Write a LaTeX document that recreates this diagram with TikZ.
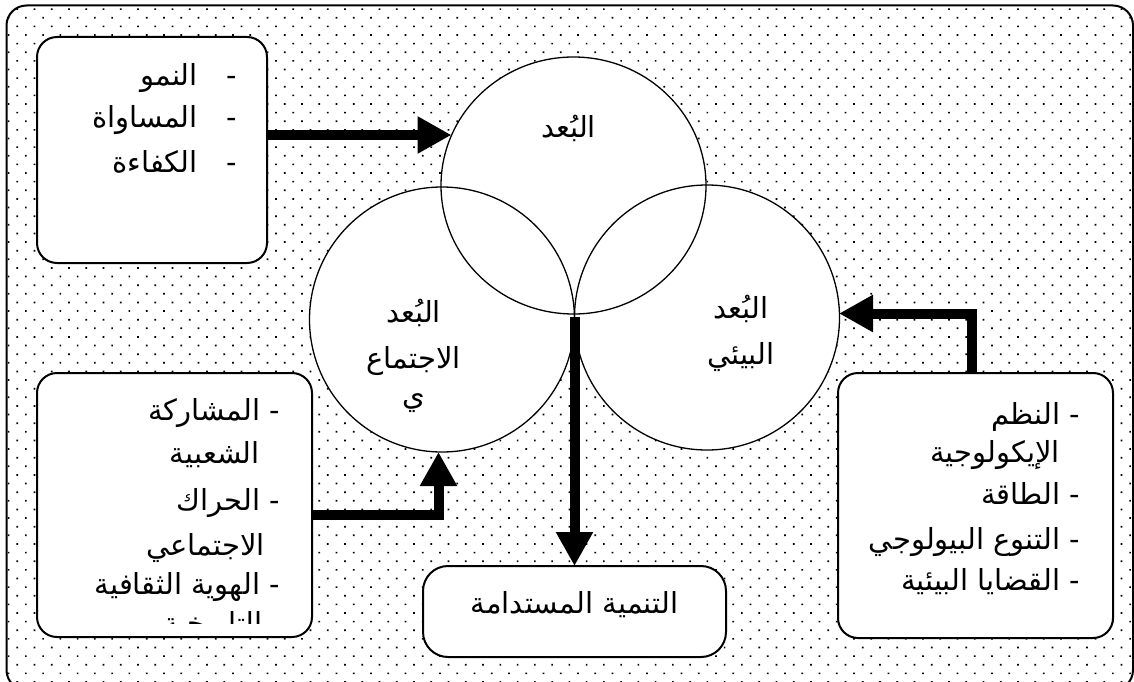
\documentclass[tikz,border=0pt]{standalone}
\usepackage{fontspec}
\newfontfamily\arfont[Script=Arabic]{DejaVu Sans}
\TeXXeTstate=1
\usetikzlibrary{arrows.meta,patterns.meta,shapes.geometric}
\tikzset{
  ar/.style={font=\arfont\fontsize{29}{33}\selectfont, inner sep=0pt},
  boxstyle/.style={draw, line width=2pt, fill=white, rounded corners=20pt, inner sep=0pt, outer sep=0pt},
  ringfill/.style={fill=white, inner sep=0pt, outer sep=0pt},
  ring/.style={line width=1.3pt},
  conn/.style={line width=10pt, line join=miter, -{Triangle[length=34pt,width=35pt]}},
}
\begin{document}
\begin{tikzpicture}[x=1pt,y=-1pt]
\useasboundingbox (0,0) rectangle (1134,682);
\clip (0,0) rectangle (1134,682);
\fill[white] (0,0) rectangle (1134,682);
% frame with dotted background
\draw[line width=2pt, rounded corners=20pt, pattern={Dots[distance=12.2pt,angle=45,radius=1.2pt]}] (6.5,5.5) rectangle (1133,690);

% boxes
\node[boxstyle, minimum width=230pt, minimum height=226pt] (tlbox) at (152,150) {};
\node[boxstyle, minimum width=275pt, minimum height=264pt] (lbbox) at (174.5,505) {};
\node[boxstyle, minimum width=275pt, minimum height=265pt] (rbox) at (975.5,505.5) {};
\node[boxstyle, rounded corners=25pt, minimum width=303pt, minimum height=91pt] (bbox) at (574.5,611.5) {};

% circles
\node[ringfill, ellipse, minimum width=265pt, minimum height=257pt] (tcirc) at (573.5,185.5) {};
\node[ringfill, circle, minimum size=265pt] (lcirc) at (442,319.5) {};
\node[ringfill, circle, minimum size=265pt] (rcirc) at (707,317.5) {};
\draw[ring] (tcirc.center) ellipse [x radius=132.5, y radius=128.5];
\draw[ring] (lcirc.center) circle [radius=132.5];
\draw[ring] (rcirc.center) circle [radius=132.5];

% circle labels
\node[ar, anchor=base] (tc1) at (568.6,138) {\beginR البُعد\endR};
\node[ar, anchor=base] (lc1) at (413.6,322) {\beginR البُعد\endR};
\node[ar, anchor=base] (lc2) at (413.6,368) {\beginR الاجتماع\endR};
\node[ar, anchor=base] (lc3) at (413.6,405) {\beginR ي\endR};
\node[ar, anchor=base] (rc1) at (740.8,318) {\beginR البُعد\endR};
\node[ar, anchor=base] (rc2) at (740.8,364) {\beginR البيئي\endR};

% top-left box text
\node[ar, anchor=base east] (tl1d) at (237,86) {-};
\node[ar, anchor=base east] (tl1) at (198,86) {\beginR النمو\endR};
\node[ar, anchor=base east] (tl2d) at (237,128) {-};
\node[ar, anchor=base east] (tl2) at (198,128) {\beginR المساواة\endR};
\node[ar, anchor=base east] (tl3d) at (237,172) {-};
\node[ar, anchor=base east] (tl3) at (198,172) {\beginR الكفاءة\endR};

% left-bottom box text
\begin{scope}
\clip (37,373) rectangle (312,623);
\node[ar, anchor=base east] (lb1) at (280,420) {\beginR - المشاركة\endR};
\node[ar, anchor=base east] (lb2) at (260,463) {\beginR الشعبية\endR};
\node[ar, anchor=base east] (lb3) at (280,510) {\beginR - الحراك\endR};
\node[ar, anchor=base east] (lb4) at (265,555) {\beginR الاجتماعي\endR};
\node[ar, anchor=base east] (lb5) at (280,594) {\beginR - الهوية الثقافية\endR};
\node[ar, anchor=base east] (lb6) at (263,633) {\beginR التاريخية\endR};
\end{scope}

% right box text
\node[ar, anchor=base east] (r1) at (1080,424) {\beginR - النظم\endR};
\node[ar, anchor=base east] (r2) at (1060,462) {\beginR الإيكولوجية\endR};
\node[ar, anchor=base east] (r3) at (1080,504) {\beginR - الطاقة\endR};
\node[ar, anchor=base east] (r4) at (1080,549) {\beginR - التنوع البيولوجي\endR};
\node[ar, anchor=base east] (r5) at (1080,590) {\beginR - القضايا البيئية\endR};

% bottom box text
\node[ar, anchor=base] (b1) at (574.5,613) {\beginR التنمية المستدامة\endR};

% connectors
\coordinate (tip1) at (451.5,135);
\draw[conn] (tlbox.east |- tip1) -- (tip1);
\coordinate (bend2) at (438.5,515);
\coordinate (tip2) at (438.5,452);
\draw[conn] (lbbox.east |- bend2) -- (bend2) -- (tip2);
\coordinate (bend3) at (972,313.5);
\coordinate (tip3) at (839,313.5);
\draw[conn] (rbox.north -| bend3) -- (bend3) -- (tip3);
\coordinate (meet) at (574.5,317);
\draw[conn] (meet) -- (bbox.north);
\end{tikzpicture}
\end{document}
